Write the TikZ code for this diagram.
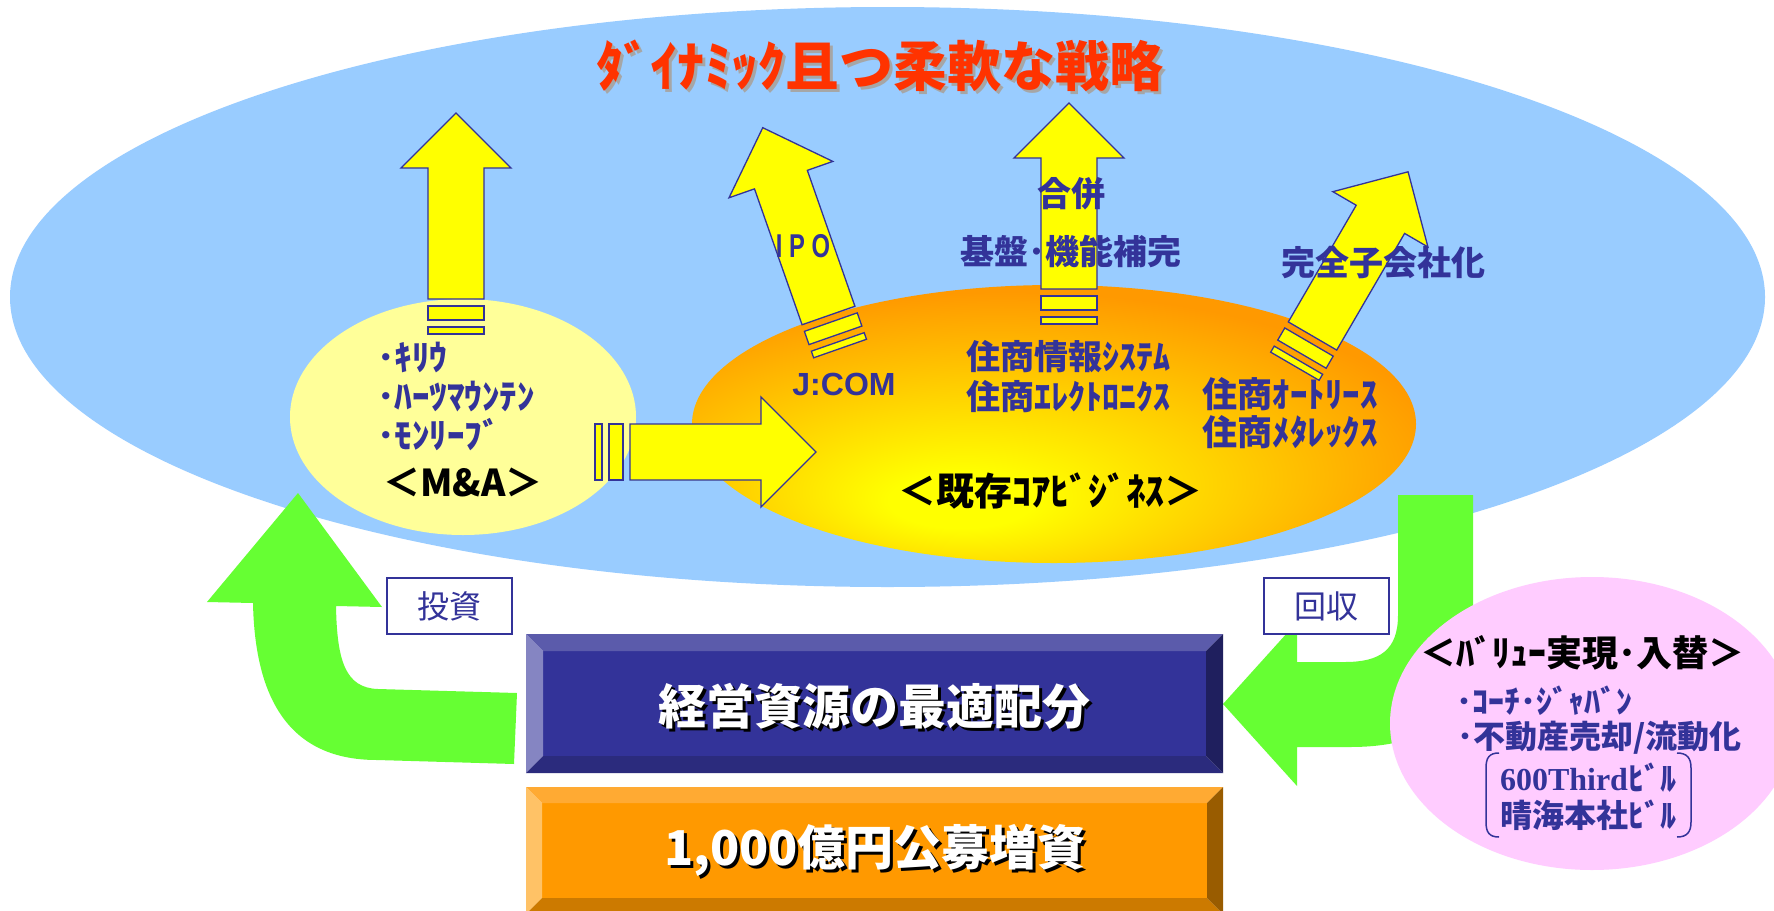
\documentclass[tikz,border=0pt]{standalone}
\usepackage{fontspec}
\usepackage{graphicx}
\newfontfamily\jp{Noto Sans CJK JP}
\newfontfamily\arialfont{Liberation Sans}
\newfontfamily\timesfont{Liberation Serif}

\definecolor{darkblue}{HTML}{333399}
\definecolor{skyblue}{HTML}{99CCFF}
\definecolor{paleyellow}{HTML}{FFFF99}
\definecolor{arrowyellow}{HTML}{FFFF00}
\definecolor{coreorange}{HTML}{FF9900}
\definecolor{titlered}{HTML}{FF3300}
\definecolor{arrowgreen}{HTML}{66FF33}
\definecolor{palepink}{HTML}{FFCCFF}
\definecolor{allocface}{HTML}{333399}
\definecolor{alloctop}{HTML}{5B5BAB}
\definecolor{allocleft}{HTML}{8585C2}
\definecolor{allocbottom}{HTML}{2B2B7D}
\definecolor{allocright}{HTML}{1F1F5E}
\definecolor{fundface}{HTML}{FF9900}
\definecolor{fundtop}{HTML}{FFAA33}
\definecolor{fundleft}{HTML}{FFC266}
\definecolor{fundbottom}{HTML}{CC7A00}
\definecolor{fundright}{HTML}{995C00}
\newcommand{\DARKBLUE}[1]{\textcolor{darkblue}{#1}}
\newcommand{\FS}[2]{\fontsize{#1}{#2}\selectfont}

\pgfdeclareradialshading{coreglow}{\pgfpoint{-7bp}{-15bp}}{%
  color(0bp)=(arrowyellow); color(5bp)=(arrowyellow);
  color(31bp)=(coreorange); color(60bp)=(coreorange)}

\tikzset{
  yarrow/.style={fill=arrowyellow, draw=darkblue, line width=1.3pt, line join=miter},
  tag/.style={draw=darkblue, line width=2pt, fill=white, inner sep=0pt,
    minimum width=125pt, minimum height=56pt, text=darkblue, font=\FS{32}{36}\jp},
  lbl/.style={inner sep=0pt, text=darkblue, font=\FS{34}{40}\jp\bfseries},
  head/.style={inner sep=0pt, text=black, font=\FS{37}{40}\jp\bfseries},
  bigtext/.style={inner sep=0pt, font=\FS{48}{52}\jp\bfseries}
}

%% yellow block arrow: base x, base y, angle, length
\newcommand\YARROW[4]{%
  \begin{scope}[shift={(#1,#2)}, rotate=#3]
    \draw[yarrow] (-28,0) -- (-28,{55-#4}) -- (-55,{55-#4}) -- (0,-#4)
      -- (55,{55-#4}) -- (28,{55-#4}) -- (28,0) -- cycle;
    \draw[yarrow] (-28,7) rectangle (28,21);
    \draw[yarrow] (-28,28) rectangle (28,35);
  \end{scope}}

%% bevelled box: x1 y1 x2 y2 bevel colour-prefix
\newcommand\BEVEL[6]{%
  \fill[#6face] ({#1+#5},{#2+#5}) rectangle ({#3-#5},{#4-#5});
  \fill[#6top] (#1,#2) -- (#3,#2) -- ({#3-#5},{#2+#5}) -- ({#1+#5},{#2+#5}) -- cycle;
  \fill[#6left] (#1,#2) -- ({#1+#5},{#2+#5}) -- ({#1+#5},{#4-#5}) -- (#1,#4) -- cycle;
  \fill[#6bottom] (#1,#4) -- ({#1+#5},{#4-#5}) -- ({#3-#5},{#4-#5}) -- (#3,#4) -- cycle;
  \fill[#6right] (#3,#2) -- (#3,#4) -- ({#3-#5},{#4-#5}) -- ({#3-#5},{#2+#5}) -- cycle;}

\begin{document}
\begin{tikzpicture}[x=1pt, y=-1pt]

  \useasboundingbox (0,0) rectangle (1774,910);
  \fill[white] (0,0) rectangle (1774,910);

  %% strategy field
  \fill[skyblue] (887.5,297) ellipse [x radius=877.5pt, y radius=290pt];
  \fill[paleyellow] (463,417) ellipse [x radius=173pt, y radius=118pt];
  \shade[shading=coreglow] (1054,424) ellipse [x radius=362pt, y radius=139pt];

  \node[text=gray!70, inner sep=0pt, font=\FS{54}{60}\jp\bfseries] (title-shadow) at (883,69) {ﾀﾞｲﾅﾐｯｸ且つ柔軟な戦略};
  \node[text=titlered, inner sep=0pt, font=\FS{54}{60}\jp\bfseries] (title) at (880,66) {ﾀﾞｲﾅﾐｯｸ且つ柔軟な戦略};

  %% yellow arrows
  \YARROW{456}{299}{0}{186}
  \YARROW{828.5}{315.5}{19.3}{199}
  \YARROW{1069}{289}{0}{186}
  \YARROW{1312.5}{336}{-30.2}{190}
  \YARROW{630}{452}{-90}{186}

  \node[lbl, font=\FS{33}{40}\arialfont\bfseries] (ipo) at (803,246) {\scalebox{0.72}[1]{I P O}};
  \node[lbl] (merger) at (1071,194) {合併};
  \node[lbl] (base) at (1071,252) {基盤･機能補完};
  \node[lbl] (subsid) at (1383,263) {完全子会社化};

  %% M&A
  \node[lbl, anchor=west, align=left, font=\FS{35}{39}\jp\bfseries] (mna-list) at (377,396) {･ｷﾘｳ\\･ﾊｰﾂﾏｳﾝﾃﾝ\\･ﾓﾝﾘｰﾌﾞ};
  \node[head] (mna) at (463,482) {＜M\&A＞};

  %% core business
  \node[lbl, font=\FS{32}{36}\arialfont\bfseries] (jcom) at (844,384) {J:COM};
  \node[lbl, align=center, font=\FS{34}{40}\jp\bfseries] (info) at (1068,377) {住商情報ｼｽﾃﾑ\\住商ｴﾚｸﾄﾛﾆｸｽ};
  \node[lbl, align=center, font=\FS{35}{38.5}\jp\bfseries] (lease) at (1290,413) {住商ｵｰﾄﾘｰｽ\\住商ﾒﾀﾚｯｸｽ};
  \node[head, font=\FS{38}{40}\jp\bfseries] (core) at (1050,491) {＜既存ｺｱﾋﾞｼﾞﾈｽ＞};

  %% green loop arrows
  \fill[arrowgreen] (517,693) -- (378,689) .. controls (345,688) and (337,660) .. (336,606)
    -- (382,607) -- (298,493) -- (207,602) -- (253,603)
    .. controls (255,700) and (290,760) .. (377,760) -- (514,764) -- cycle;
  \fill[arrowgreen] (1398,495) -- (1473,495) -- (1473,640)
    .. controls (1473,715) and (1430,747) .. (1350,747) -- (1297,747) -- (1297,786)
    -- (1223,704) -- (1297,622) -- (1297,662) -- (1345,662)
    .. controls (1380,662) and (1398,650) .. (1398,615) -- cycle;

  \node[tag] (invest) at (449.5,606) {投資};
  \node[tag] (collect) at (1326.5,606) {回収};

  %% value realisation
  \fill[palepink] (1592,723.5) ellipse [x radius=202pt, y radius=146.5pt];
  \node[head, font=\FS{36}{40}\jp\bfseries] (value) at (1582,653) {＜ﾊﾞﾘｭｰ実現･入替＞};
  \node[lbl, anchor=west, font=\FS{32}{36}\jp\bfseries] (coach) at (1456,701) {･ｺｰﾁ･ｼﾞｬﾊﾞﾝ};
  \node[lbl, anchor=west, font=\FS{32}{36}\jp\bfseries] (estate) at (1457,738) {･不動産売却/流動化};
  \node[lbl, font=\FS{32}{36}\jp\bfseries] (third) at (1588,778) {{\timesfont\bfseries 600Third}ﾋﾞﾙ};
  \node[lbl, font=\FS{32}{36}\jp\bfseries] (harumi) at (1588,815) {晴海本社ﾋﾞﾙ};
  \draw[darkblue, line width=1.5pt] (1499,753) .. controls (1489,753) and (1486,758) .. (1486,768)
    -- (1486,822) .. controls (1486,832) and (1489,837) .. (1499,837);
  \draw[darkblue, line width=1.5pt] (1677,753) .. controls (1687,753) and (1691,758) .. (1691,768)
    -- (1691,822) .. controls (1691,832) and (1687,837) .. (1677,837);

  %% resources
  \BEVEL{526}{634}{1223}{773}{17}{alloc}
  \node[bigtext, text=black] (alloc-shadow) at (877,709) {経営資源の最適配分};
  \node[bigtext, text=white] (alloc) at (874,706) {経営資源の最適配分};
  \BEVEL{526}{787}{1223}{914}{16}{fund}
  \node[bigtext, text=black] (fund-shadow) at (878,853) {1,000億円公募増資};
  \node[bigtext, text=white] (fund) at (875,850) {1,000億円公募増資};

\end{tikzpicture}
\end{document}
